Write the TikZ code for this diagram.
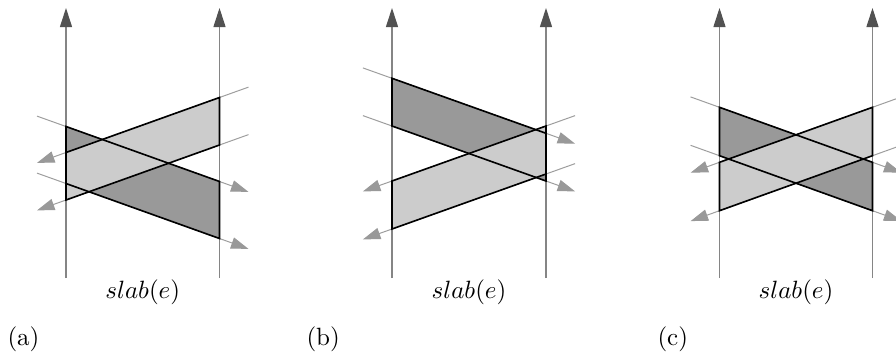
\documentclass[tikz,border=0pt]{standalone}
\usetikzlibrary{arrows.meta,calc}
\tikzset{
  axisline/.style={draw=black!48, line width=0.45pt,
    -{Triangle[length=7.6pt,width=4.8pt,color=black!68]}},
  oblline/.style={draw=black!38, line width=0.4pt,
    -{Triangle[length=7pt,width=4.6pt,color=black!40]}},
  edge/.style={draw=black, line width=0.65pt, line join=miter},
  darkband/.style={fill=black!40},
  lightband/.style={fill=black!20},
  slablabel/.style={inner sep=0pt, font=\normalsize},
  panellabel/.style={inner sep=0pt, anchor=west, font=\normalsize}
}
\newcommand\myext{0.189}
% #1 prefix, #2 L, #3 R, #4 dark upper at L, #5 dark lower at L,
% #6 light upper at R, #7 light lower at R
\newcommand\slabpanel[7]{%
  \coordinate (#1bl) at (#2,278); \coordinate (#1tl) at (#2,8);
  \coordinate (#1br) at (#3,278); \coordinate (#1tr) at (#3,8);
  \coordinate (#1da) at (#2,#4); \coordinate (#1db) at (#3,{#4+55});
  \coordinate (#1ea) at (#2,#5); \coordinate (#1eb) at (#3,{#5+55});
  \coordinate (#1la) at (#3,#6); \coordinate (#1lb) at (#2,{#6+55});
  \coordinate (#1ma) at (#3,#7); \coordinate (#1mb) at (#2,{#7+55});
  \coordinate (#1ds) at ($(#1da)!-\myext!(#1db)$);
  \coordinate (#1de) at ($(#1db)!-\myext!(#1da)$);
  \coordinate (#1es) at ($(#1ea)!-\myext!(#1eb)$);
  \coordinate (#1ee) at ($(#1eb)!-\myext!(#1ea)$);
  \coordinate (#1ls) at ($(#1la)!-\myext!(#1lb)$);
  \coordinate (#1le) at ($(#1lb)!-\myext!(#1la)$);
  \coordinate (#1ms) at ($(#1ma)!-\myext!(#1mb)$);
  \coordinate (#1me) at ($(#1mb)!-\myext!(#1ma)$);
  \draw[axisline] (#1bl) -- (#1tl);
  \draw[axisline] (#1br) -- (#1tr);
  \draw[oblline] (#1ds) -- (#1de);
  \draw[oblline] (#1es) -- (#1ee);
  \draw[oblline] (#1ls) -- (#1le);
  \draw[oblline] (#1ms) -- (#1me);
  \path[darkband] (#1da) -- (#1db) -- (#1eb) -- (#1ea) -- cycle;
  \path[lightband] (#1la) -- (#1lb) -- (#1mb) -- (#1ma) -- cycle;
  \draw[edge] (#1da) -- (#1db) -- (#1eb) -- (#1ea) -- cycle;
  \draw[edge] (#1la) -- (#1lb) -- (#1mb) -- (#1ma) -- cycle;
  \node[slablabel] (#1slab) at ({(#2+#3)/2},292) {$slab(e)$};
}
\begin{document}
\begin{tikzpicture}[x=0.4pt,y=-0.4pt]
  \useasboundingbox (0,0) rectangle (896,355);
  \slabpanel{a}{66}{219.5}{126.5}{183.5}{97.5}{145}
  \slabpanel{b}{392}{546}{78.3}{126}{126}{174}
  \slabpanel{c}{719.5}{872.5}{107.3}{155.7}{107.3}{155.7}
  \node[panellabel] (la) at (7,339) {(a)};
  \node[panellabel] (lb) at (306,339) {(b)};
  \node[panellabel] (lc) at (657,339) {(c)};
\end{tikzpicture}
\end{document}
